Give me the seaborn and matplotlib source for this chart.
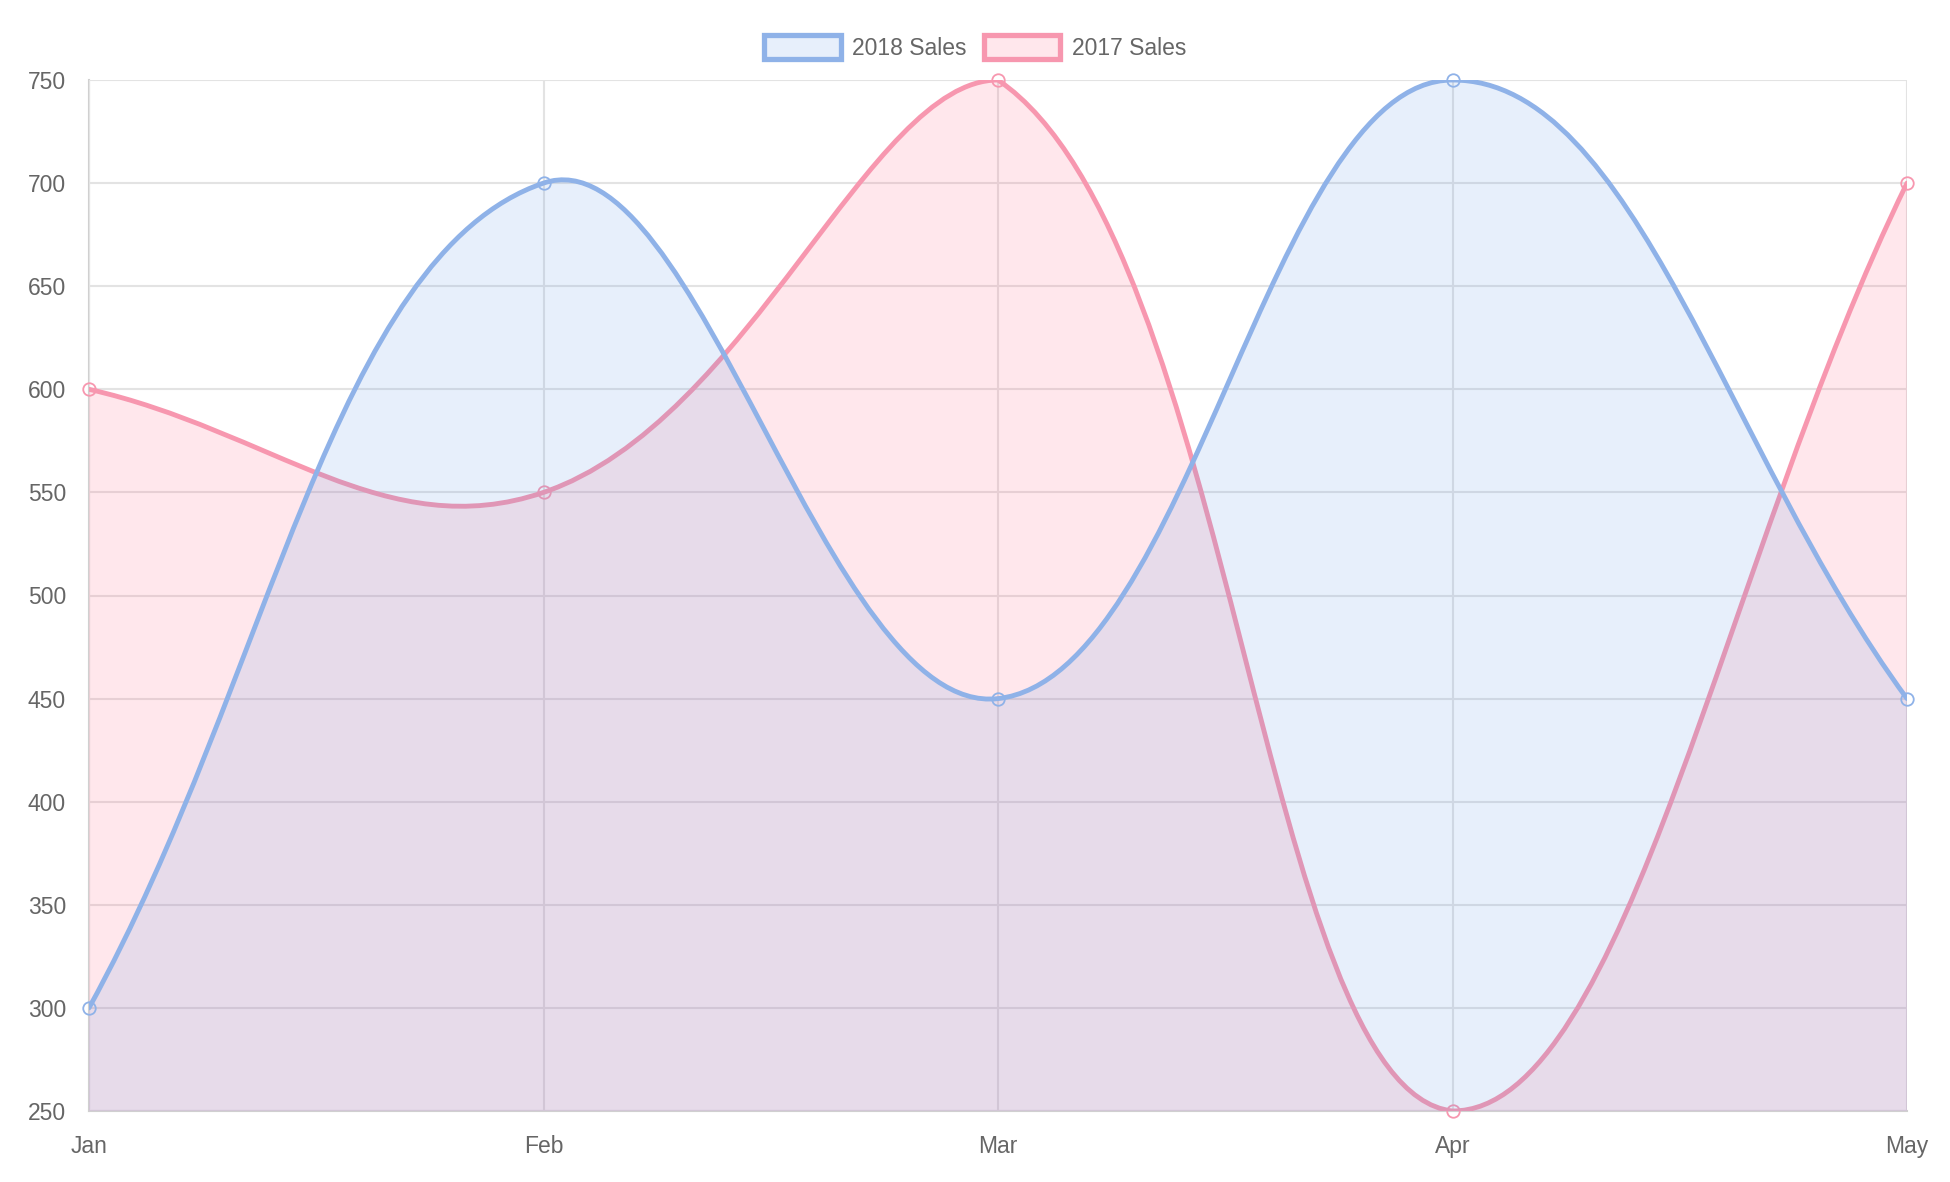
import numpy as np
import matplotlib
matplotlib.use("Agg")
import matplotlib.pyplot as plt
from matplotlib.path import Path
from matplotlib.patches import PathPatch, Patch
import seaborn as sns

# --- Data ---
months = ["Jan", "Feb", "Mar", "Apr", "May"]
sales_2018 = [300, 700, 450, 750, 450]
sales_2017 = [600, 550, 750, 250, 700]
y_ticks = [250, 300, 350, 400, 450, 500, 550, 600, 650, 700, 750]

# --- Styles ---
BLUE_LINE = "#8FB2E8"
BLUE_FILL = (88 / 255, 148 / 255, 228 / 255, 0.14)
PINK_LINE = "#F797AF"
PINK_FILL = (255 / 255, 99 / 255, 132 / 255, 0.15)
GRID = "#E3E3E3"
TEXT = "#666666"


def spline_path(ax, xs, ys, tension=0.4):
    """Chart.js style cubic bezier through the points (computed in pixel space)."""
    pts = ax.transData.transform(np.column_stack([xs, ys]))
    bb = ax.bbox
    n = len(pts)
    cps = []
    for i in range(n):
        cur = pts[i]
        prev = pts[i - 1] if i > 0 else cur
        nxt = pts[i + 1] if i < n - 1 else cur
        d01 = np.hypot(*(cur - prev))
        d12 = np.hypot(*(nxt - cur))
        tot = d01 + d12
        s01 = d01 / tot if tot else 0
        s12 = d12 / tot if tot else 0
        cp_prev = cur - tension * s01 * (nxt - prev)
        cp_next = cur + tension * s12 * (nxt - prev)
        # keep control points inside the chart area
        for cp in (cp_prev, cp_next):
            cp[0] = min(max(cp[0], bb.x0), bb.x1)
            cp[1] = min(max(cp[1], bb.y0), bb.y1)
        cps.append((cp_prev, cp_next))
    verts = [pts[0]]
    codes = [Path.MOVETO]
    for i in range(n - 1):
        verts += [cps[i][1], cps[i + 1][0], pts[i + 1]]
        codes += [Path.CURVE4] * 3
    verts = ax.transData.inverted().transform(np.array(verts))
    return verts, codes


sns.set_theme(style="white")
plt.rcParams["font.family"] = ["Liberation Sans", "DejaVu Sans"]

W, H = 1950, 1182
fig = plt.figure(figsize=(W / 100, H / 100), dpi=100)
ax = fig.add_axes([89 / W, 1 - 1111 / H, (1907 - 89) / W, (1111 - 80) / H])

x = np.arange(len(months))
ax.set_xlim(0, len(months) - 1)
ax.set_ylim(y_ticks[0], y_ticks[-1])

series = [
    ("2017 Sales", sales_2017, PINK_LINE, PINK_FILL, 3),
    ("2018 Sales", sales_2018, BLUE_LINE, BLUE_FILL, 4),
]

for label, vals, lc, fc, z in series:
    verts, codes = spline_path(ax, x, vals)
    line = Path(verts, codes)
    ax.add_patch(PathPatch(line, facecolor="none", edgecolor=lc, lw=3.5,
                           zorder=z + 0.5, capstyle="round", joinstyle="round"))
    fill_verts = np.vstack([verts, [[x[-1], y_ticks[0]], [x[0], y_ticks[0]], [x[0], vals[0]]]])
    fill_codes = codes + [Path.LINETO, Path.LINETO, Path.CLOSEPOLY]
    ax.add_patch(PathPatch(Path(fill_verts, fill_codes), facecolor=fc,
                           edgecolor="none", zorder=z))
    sns.lineplot(x=x, y=vals, ax=ax, color=lc, marker="o", linestyle="",
                 markerfacecolor="none", markeredgecolor=lc, markersize=9,
                 markeredgewidth=1.3, zorder=z + 0.6, clip_on=False)

# --- Axes formatting ---
ax.set_xticks(x)
ax.set_xticklabels(months)
ax.set_yticks(y_ticks)
ax.set_yticklabels([str(v) for v in y_ticks])
ax.grid(True, color=GRID, lw=1.5)
ax.set_axisbelow(True)
for side in ["top", "right"]:
    ax.spines[side].set_visible(False)
for side in ["left", "bottom"]:
    ax.spines[side].set_color("#D0D0D0")
    ax.spines[side].set_linewidth(1.5)
    ax.spines[side].set_zorder(0.5)
ax.tick_params(axis="both", length=15, width=1.5, color=GRID,
               labelcolor=TEXT, labelsize=16.5, pad=1.5)
ax.tick_params(axis="x", pad=2)
ax.set_xlabel("")
ax.set_ylabel("")
ax.set_facecolor("white")

# --- Legend ---
handles = [
    Patch(facecolor=BLUE_FILL, edgecolor=BLUE_LINE, lw=3.8, label="2018 Sales"),
    Patch(facecolor=PINK_FILL, edgecolor=PINK_LINE, lw=3.8, label="2017 Sales"),
]
fig.legend(handles=handles, loc="upper center", bbox_to_anchor=(0.5, 1 - 35 / H),
           ncol=2, frameon=False, fontsize=16.5, labelcolor=TEXT,
           handlelength=3.35, handleheight=1.25, handletextpad=0.5,
           columnspacing=0.75, borderpad=0, borderaxespad=0)

fig.savefig("out.png", dpi=100, facecolor="white")
